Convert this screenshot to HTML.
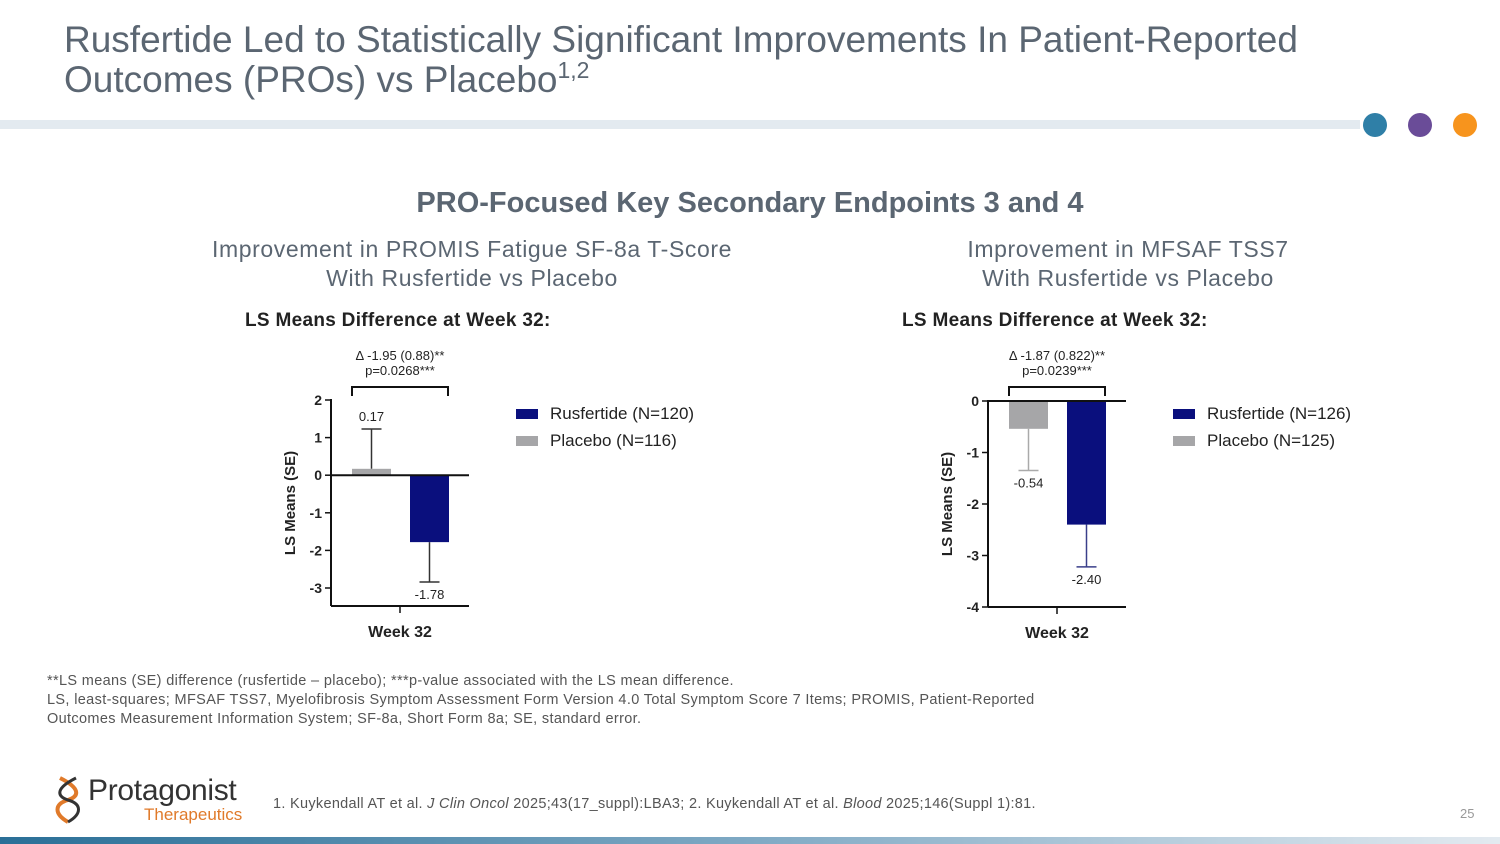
<!DOCTYPE html>
<html><head><meta charset="utf-8"><style>
body{margin:0;width:1500px;height:844px;overflow:hidden;background:#fff;font-family:"Liberation Sans",Arial,sans-serif;position:relative}
.abs{position:absolute}
</style></head><body>
<div class="abs" style="left:64px;top:20px;font-size:37px;line-height:40px;color:#5b6672">Rusfertide Led to Statistically Significant Improvements In Patient-Reported<br>Outcomes (PROs) vs Placebo<span style="font-size:23px;position:relative;top:-14px">1,2</span></div>
<div class="abs" style="left:0;top:120px;width:1360px;height:9px;background:#e3eaf0"></div>
<div class="abs" style="left:1363px;top:113px;width:24px;height:24px;border-radius:50%;background:#2f7fa7"></div>
<div class="abs" style="left:1408px;top:113px;width:24px;height:24px;border-radius:50%;background:#6a4c98"></div>
<div class="abs" style="left:1453px;top:113px;width:24px;height:24px;border-radius:50%;background:#f7941d"></div>
<div class="abs" style="left:0;width:1500px;top:187px;text-align:center;font-size:29px;font-weight:bold;color:#5b6672">PRO-Focused Key Secondary Endpoints 3 and 4</div>
<div class="abs" style="left:122px;width:700px;top:235px;text-align:center;font-size:23px;letter-spacing:0.6px;line-height:29px;color:#5b6672">Improvement in PROMIS Fatigue SF-8a T-Score<br>With Rusfertide vs Placebo</div>
<div class="abs" style="left:778px;width:700px;top:235px;text-align:center;font-size:23px;letter-spacing:0.6px;line-height:29px;color:#5b6672">Improvement in MFSAF TSS7<br>With Rusfertide vs Placebo</div>
<div class="abs" style="left:245px;top:310px;font-size:19px;font-weight:bold;color:#222;letter-spacing:0.3px">LS Means Difference at Week 32:</div>
<div class="abs" style="left:902px;top:310px;font-size:19px;font-weight:bold;color:#222;letter-spacing:0.3px">LS Means Difference at Week 32:</div>
<svg class="abs" style="left:0;top:0" width="1500" height="844" id="charts"></svg>
<div class="abs" style="left:47px;top:672px;font-size:14.5px;letter-spacing:0.35px;line-height:19px;color:#555">**LS means (SE) difference (rusfertide – placebo); ***p-value associated with the LS mean difference.<br>LS, least-squares; MFSAF TSS7, Myelofibrosis Symptom Assessment Form Version 4.0 Total Symptom Score 7 Items; PROMIS, Patient-Reported<br>Outcomes Measurement Information System; SF-8a, Short Form 8a; SE, standard error.</div>
<div class="abs" style="left:50px;top:774px;width:210px;height:52px">
<svg width="40" height="52" style="position:absolute;left:0;top:0"><path d="M10 4 C30 14,30 22,18 26 C4 30,4 40,18 48" stroke="#e07a2a" stroke-width="4" fill="none"/><path d="M26 4 C6 14,6 22,18 26 C32 30,32 40,18 48" stroke="#333" stroke-width="3" fill="none"/></svg>
<div style="position:absolute;left:38px;top:0;font-size:30px;color:#333;letter-spacing:-0.3px">Protagonist</div>
<div style="position:absolute;left:94px;top:31px;font-size:17px;color:#e07a2a">Therapeutics</div></div>
<div class="abs" style="left:273px;top:796px;font-size:14.5px;letter-spacing:0.3px;color:#555">1. Kuykendall AT et al. <i>J Clin Oncol</i> 2025;43(17_suppl):LBA3; 2. Kuykendall AT et al. <i>Blood</i> 2025;146(Suppl 1):81.</div>
<div class="abs" style="left:1460px;top:806px;font-size:13px;color:#999">25</div>
<div class="abs" style="left:0;top:837px;width:1500px;height:7px;background:linear-gradient(90deg,#2a6f97,#7fa9c4 50%,#e3eaf0)"></div>
<script>
const c1Ticks=[2,1,0,-1,-2,-3];
const c1Values=[0.17,-1.78];
const c1Errors=[1.06,1.06];
const c1Labels=["0.17","-1.78"];
const c2Ticks=[0,-1,-2,-3,-4];
const c2Values=[-0.54,-2.40];
const c2Errors=[0.81,0.82];
const c2Labels=["-0.54","-2.40"];
const seriesNames1=["Placebo (N=116)","Rusfertide (N=120)"];
const seriesNames2=["Placebo (N=125)","Rusfertide (N=126)"];
const colors=["#a6a6a8","#0a0f7d"];
const errColors1=["#333","#333"];
const errColors2=["#aaa","#3a3f8a"];
const svg=document.getElementById('charts');
const NS='http://www.w3.org/2000/svg';
function mk(t,a,txt){const e=document.createElementNS(NS,t);for(const k in a)e.setAttribute(k,a[k]);if(txt!==undefined)e.textContent=txt;svg.appendChild(e);return e;}
function chart(o){
 const y=v=>o.y0+(o.top-v)*o.ppu;
 const ax=o.ax, right=ax+138;
 let e=mk('line',{x1:ax,y1:o.y0-1,x2:ax,y2:o.bottom,stroke:'#111','stroke-width':2});
 
 e=mk('line',{x1:ax,y1:o.bottom,x2:right,y2:o.bottom,stroke:'#111','stroke-width':2});
 
 mk('line',{x1:ax+69,y1:o.bottom,x2:ax+69,y2:o.bottom+7,stroke:'#111','stroke-width':1.5});
 o.ticks.forEach(t=>{mk('line',{x1:ax-6,y1:y(t),x2:ax,y2:y(t),stroke:'#111','stroke-width':1.5});
  e=mk('text',{x:ax-9,y:y(t)+5,'text-anchor':'end','font-size':14,'font-weight':'bold',fill:'#222'},String(t));
  });
 e=mk('text',{x:ax+69,y:o.bottom+31,'text-anchor':'middle','font-size':16,'font-weight':'bold',fill:'#222'},'Week 32');
 
 e=mk('text',{transform:`translate(${ax-36},${(o.y0+o.bottom)/2}) rotate(-90)`,'text-anchor':'middle','font-size':15,'font-weight':'bold',fill:'#222'},'LS Means (SE)');
 
 o.values.forEach((v,i)=>{const x=ax+21+i*58,w=39;const y1=y(Math.max(v,0)),y2=y(Math.min(v,0));
  const ec=o.errColors[i];const ye=y(v+(v>=0?o.errors[i]:-o.errors[i]));const cx=x+w/2;
  mk('line',{x1:cx,y1:y(v),x2:cx,y2:ye,stroke:ec,'stroke-width':1.5});
  mk('line',{x1:cx-10,y1:ye,x2:cx+10,y2:ye,stroke:ec,'stroke-width':1.5});
  e=mk('rect',{x:x,y:y1,width:w,height:Math.max(y2-y1,1),fill:colors[i]});
  
  const ly=v>=0?ye-8:ye+17;
  e=mk('text',{x:cx,y:ly,'text-anchor':'middle','font-size':13,fill:'#222'},o.labels[i]);
  });
 e=mk('line',{x1:ax,y1:y(0),x2:right,y2:y(0),stroke:'#111','stroke-width':2});
 
 const bx1=ax+21,bx2=ax+117;
 e=mk('path',{d:`M${bx1} 396 V387 H${bx2} V396`,stroke:'#111','stroke-width':2,fill:'none'});
 
 e=mk('text',{x:ax+69,y:360,'text-anchor':'middle','font-size':13,fill:'#222'},o.delta);
 
 e=mk('text',{x:ax+69,y:375,'text-anchor':'middle','font-size':13,fill:'#222'},o.p);
 
 [1,0].forEach((i,k)=>{e=mk('rect',{x:o.lx,y:409+k*27,width:22,height:10,fill:colors[i]});
  
  e=mk('text',{x:o.lx+34,y:419+k*27,'font-size':17,fill:'#222'},o.names[i]);
  });
}
chart({ax:331,y0:400,top:2,ppu:37.6,bottom:606,ticks:c1Ticks,values:c1Values,errors:c1Errors,labels:c1Labels,errColors:errColors1,delta:'Δ -1.95 (0.88)**',p:'p=0.0268***',lx:516,names:seriesNames1});
chart({ax:988,y0:401,top:0,ppu:51.5,bottom:607,ticks:c2Ticks,values:c2Values,errors:c2Errors,labels:c2Labels,errColors:errColors2,delta:'Δ -1.87 (0.822)**',p:'p=0.0239***',lx:1173,names:seriesNames2});
</script>
</body></html>
